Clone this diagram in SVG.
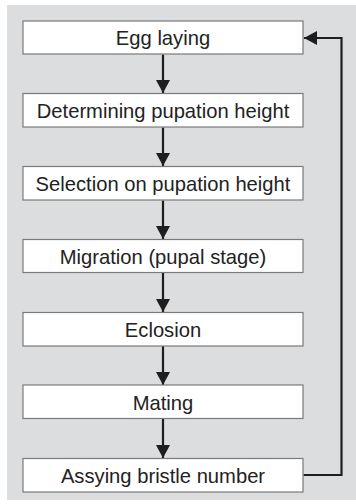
<svg xmlns="http://www.w3.org/2000/svg" width="356" height="504" viewBox="0 0 356 504">
  <style>
    .box { fill: #ffffff; stroke: #7a7a7a; stroke-width: 1.2; }
    .label { font-family: "Liberation Sans", Arial, sans-serif; font-size: 20.2px; fill: #222222; text-anchor: middle; }
    .link { fill: none; stroke: #1e1e1e; stroke-width: 2.2; }
  </style>
  <defs>
    <marker id="head" markerUnits="userSpaceOnUse" markerWidth="13" markerHeight="15" viewBox="0 0 13 15" refX="13" refY="7.5" orient="auto">
      <path d="M0,0.5 L13,7.5 L0,14.5 Z" fill="#1e1e1e"/>
    </marker>
  </defs>
  <rect x="7" y="5" width="349" height="495" fill="#dcdddf"/>

  <g id="connectors">
    <line class="link" x1="163" y1="54.5" x2="163" y2="93" marker-end="url(#head)"/>
    <line class="link" x1="163" y1="127.5" x2="163" y2="166" marker-end="url(#head)"/>
    <line class="link" x1="163" y1="200.5" x2="163" y2="239" marker-end="url(#head)"/>
    <line class="link" x1="163" y1="273" x2="163" y2="312" marker-end="url(#head)"/>
    <line class="link" x1="163" y1="346" x2="163" y2="385" marker-end="url(#head)"/>
    <line class="link" x1="163" y1="419" x2="163" y2="458" marker-end="url(#head)"/>
    <polyline class="link" points="303.5,475 341.5,475 341.5,38 304,38" marker-end="url(#head)"/>
  </g>

  <g id="egg-laying">
    <rect class="box" x="23" y="21" width="280" height="33"/>
    <text class="label" x="163" y="45">Egg laying</text>
  </g>
  <g id="determining-pupation-height">
    <rect class="box" x="23" y="93.5" width="280" height="33.5"/>
    <text class="label" x="163" y="118">Determining pupation height</text>
  </g>
  <g id="selection-on-pupation-height">
    <rect class="box" x="23" y="166.5" width="280" height="33.5"/>
    <text class="label" x="163" y="191">Selection on pupation height</text>
  </g>
  <g id="migration">
    <rect class="box" x="23" y="239.5" width="280" height="33"/>
    <text class="label" x="163" y="263.8">Migration (pupal stage)</text>
  </g>
  <g id="eclosion">
    <rect class="box" x="23" y="312.5" width="280" height="33.5"/>
    <text class="label" x="163" y="337">Eclosion</text>
  </g>
  <g id="mating">
    <rect class="box" x="23" y="385" width="280" height="33.5"/>
    <text class="label" x="163" y="409.5">Mating</text>
  </g>
  <g id="assaying-bristle-number">
    <rect class="box" x="23" y="458.5" width="280" height="33.5"/>
    <text class="label" x="163" y="483">Assying bristle number</text>
  </g>
</svg>
